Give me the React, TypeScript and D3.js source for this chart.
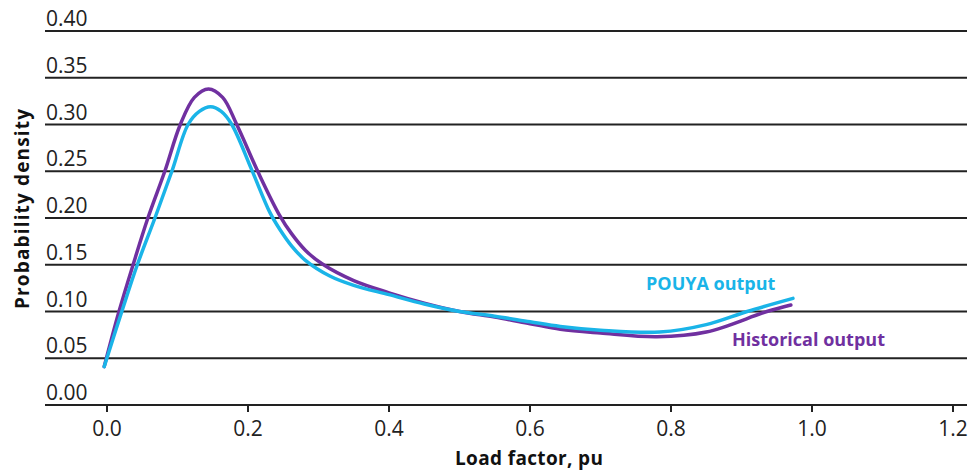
import React, { useEffect, useRef } from 'react';
import * as d3 from 'd3';

// load factor (pu) / probability density
const histX = [-0.004, 0.017, 0.037, 0.058, 0.082, 0.104, 0.124, 0.144, 0.164, 0.184, 0.215, 0.244, 0.262, 0.282, 0.305, 0.35, 0.4, 0.45, 0.5, 0.55, 0.6, 0.643, 0.7, 0.78, 0.85, 0.936, 0.97];
const histY = [0.041, 0.10, 0.15, 0.20, 0.25, 0.30, 0.329, 0.338, 0.329, 0.30, 0.248, 0.204, 0.183, 0.165, 0.151, 0.133, 0.12, 0.109, 0.10, 0.094, 0.087, 0.081, 0.077, 0.073, 0.078, 0.10, 0.107];

const pouyaX = [-0.004, 0.021, 0.043, 0.068, 0.092, 0.115, 0.131, 0.147, 0.162, 0.177, 0.205, 0.231, 0.245, 0.262, 0.281, 0.316, 0.35, 0.4, 0.45, 0.5, 0.55, 0.6, 0.643, 0.7, 0.784, 0.85, 0.908, 0.973];
const pouyaY = [0.041, 0.10, 0.15, 0.20, 0.25, 0.30, 0.314, 0.319, 0.314, 0.30, 0.252, 0.206, 0.188, 0.17, 0.155, 0.138, 0.128, 0.118, 0.108, 0.10, 0.095, 0.089, 0.084, 0.080, 0.078, 0.086, 0.10, 0.114];

const xTicks = [0, 0.2, 0.4, 0.6, 0.8, 1.0, 1.2];
const yTicks = [0, 0.05, 0.1, 0.15, 0.2, 0.25, 0.3, 0.35, 0.4];

const HIST = '#7030a0';
const POUYA = '#1ab4e8';
const FONT = "'Open Sans', 'Noto Sans', sans-serif";

const App = () => {
    const ref = useRef<SVGSVGElement>(null);

    useEffect(() => {
        const width = 974;
        const height = 470;
        const x = d3.scaleLinear([0, 1.2], [107, 953]);
        const y = d3.scaleLinear([0, 0.4], [405, 31]);

        const svg = d3.select(ref.current)
            .attr('viewBox', [0, 0, width, height])
            .attr('width', width)
            .attr('height', height);
        svg.selectAll('*').remove();

        // gridlines + y labels sitting on them
        const g = svg.append('g');
        g.selectAll('line.grid')
            .data(yTicks)
            .join('line')
            .attr('class', 'grid')
            .attr('x1', 45)
            .attr('x2', 967)
            .attr('y1', d => y(d))
            .attr('y2', d => y(d))
            .attr('stroke', '#222')
            .attr('stroke-width', 2);
        g.selectAll('text.ylab')
            .data(yTicks)
            .join('text')
            .attr('class', 'ylab')
            .attr('x', 46)
            .attr('y', d => y(d) - 5)
            .attr('font-family', FONT)
            .attr('font-size', 21)
            .attr('fill', '#222')
            .text(d => d.toFixed(2));

        // x ticks
        g.selectAll('line.xtick')
            .data(xTicks)
            .join('line')
            .attr('class', 'xtick')
            .attr('x1', d => x(d))
            .attr('x2', d => x(d))
            .attr('y1', y(0))
            .attr('y2', y(0) + 7)
            .attr('stroke', '#222')
            .attr('stroke-width', 2);
        g.selectAll('text.xlab')
            .data(xTicks)
            .join('text')
            .attr('class', 'xlab')
            .attr('x', d => x(d))
            .attr('y', 436)
            .attr('text-anchor', 'middle')
            .attr('font-family', FONT)
            .attr('font-size', 21)
            .attr('fill', '#222')
            .text(d => d.toFixed(1));

        // titles
        svg.append('text')
            .attr('x', 529)
            .attr('y', 465)
            .attr('text-anchor', 'middle')
            .attr('font-family', FONT)
            .attr('font-weight', 'bold')
            .attr('font-size', 19)
            .attr('textLength', 148)
            .attr('lengthAdjust', 'spacing')
            .attr('fill', '#111')
            .text('Load factor, pu');
        svg.append('text')
            .attr('transform', 'translate(29,209) rotate(-90)')
            .attr('text-anchor', 'middle')
            .attr('font-family', FONT)
            .attr('font-weight', 'bold')
            .attr('font-size', 19)
            .attr('textLength', 200)
            .attr('lengthAdjust', 'spacing')
            .attr('fill', '#111')
            .text('Probability density');

        // curves
        const line = d3.line<[number, number]>()
            .x(d => x(d[0]))
            .y(d => y(d[1]))
            .curve(d3.curveCatmullRom.alpha(0.5));

        const series = [
            { xs: histX, ys: histY, color: HIST },
            { xs: pouyaX, ys: pouyaY, color: POUYA },
        ];
        svg.selectAll('path.curve')
            .data(series)
            .join('path')
            .attr('class', 'curve')
            .attr('d', s => line(s.xs.map((v, i) => [v, s.ys[i]] as [number, number])))
            .attr('fill', 'none')
            .attr('stroke', s => s.color)
            .attr('stroke-width', 3.5)
            .attr('stroke-linecap', 'round');

        // inline labels
        svg.append('text')
            .attr('x', 646)
            .attr('y', 290)
            .attr('font-family', FONT)
            .attr('font-weight', 'bold')
            .attr('font-size', 18)
            .attr('fill', POUYA)
            .text('POUYA output');
        svg.append('text')
            .attr('x', 732)
            .attr('y', 346)
            .attr('font-family', FONT)
            .attr('font-weight', 'bold')
            .attr('font-size', 18)
            .attr('fill', HIST)
            .text('Historical output');
    }, []);

    return <svg ref={ref} style={{ position: 'absolute', left: 0, top: 0 }}></svg>;
};

export default App;
